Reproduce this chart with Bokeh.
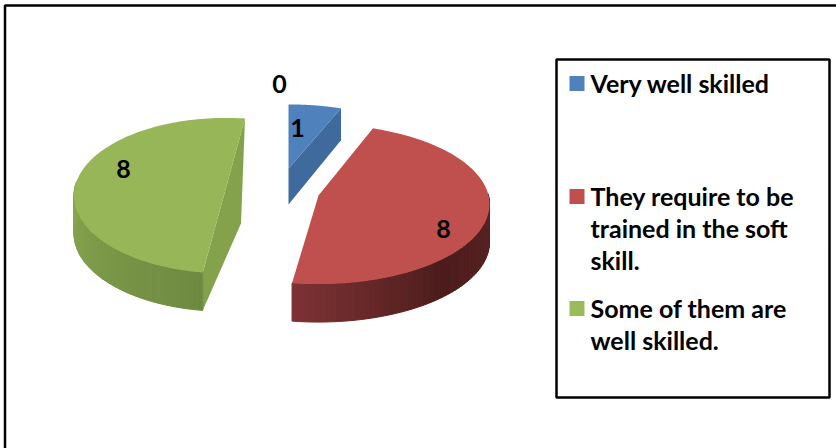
import math
from bokeh.plotting import figure
from bokeh.embed import file_html
from bokeh.resources import INLINE
from bokeh.core.properties import value as fv
from bokeh.models import Range1d

categories = ["Very well skilled", "They require to be\ntrained in the soft\nskill.", "Some of them are\nwell skilled."]
values = [1, 8, 8]
data_labels = ["1", "8", "8"]
extra_label = "0"
colors = ["#4F81BD", "#C0504D", "#9BBB59"]
top_colors = ["#4F81BD", "#C0504D", "#97B657"]

W, H = 836, 448
FONT = "Lato"
p = figure(width=W, height=H, x_range=Range1d(0, W), y_range=Range1d(H, 0), output_backend="svg",
           toolbar_location=None, min_border=0, outline_line_color=None)
p.axis.visible = False
p.grid.visible = False

# per-slice drawing of the tilted, exploded pie; pad = (degrees added at start, at end)
geom = [dict(cx=288, cy=168, R=160, S=71, K=0.108, depth=36, pad=(0, 0)),
        dict(cx=318, cy=195, R=170, S=79, K=0.108, depth=38, pad=(0.5, -2.6)),
        dict(cx=225, cy=189, R=151, S=77.2, K=0.0787, depth=38, pad=(2.6, 8))]
shades = {1: [(0.0, "#5c2424"), (0.5, "#4c1c1c"), (1.0, "#7d3234")],
          2: [(0.0, "#88a750"), (0.45, "#7d9a49"), (1.0, "#6d8a40")]}


def rim(g, t):
    X, Y = math.sin(t), math.cos(t)
    w = 1 + g["K"] * Y
    return g["cx"] + g["R"] * X / w, g["cy"] - g["S"] * Y / w


def lerp(stops, f):
    for (a, ca), (b, cb) in zip(stops, stops[1:]):
        if f <= b:
            u = (f - a) / (b - a)
            c = [round(int(ca[i:i + 2], 16) * (1 - u) + int(cb[i:i + 2], 16) * u) for i in (1, 3, 5)]
            return "#%02x%02x%02x" % tuple(c)
    return stops[-1][1]


total = sum(values)
angle = 0.0
spans = []
for v, g in zip(values, geom):
    sweep = v / total * 2 * math.pi
    spans.append((angle - math.radians(g["pad"][0]), angle + sweep + math.radians(g["pad"][1])))
    angle += sweep

# side walls
for i, (g, (a, b)) in enumerate(zip(geom, spans)):
    if i == 0:
        ax, ay = rim(g, b)
        p.patch([g["cx"], ax, ax, g["cx"]], [g["cy"], ay, ay + 32, g["cy"] + g["depth"]], fill_color="#3f6a9e", line_color=None)
        continue
    lo = max(a, math.pi / 2 - 0.02)
    hi = min(b, 3 * math.pi / 2 + 0.1)
    if i == 2:
        lo = a
        x1, y1 = rim(g, a)
        x2, y2 = rim(g, b)
        p.patch([x2, x2 - 4, x1, x1], [y2, g["cy"] + 34, y1 + g["depth"], y1], fill_color="#84a24c", line_color=None)
    n = 60
    for k in range(n):
        t0 = lo + (hi - lo) * k / n
        t1 = lo + (hi - lo) * (k + 1) / n
        x0, y0 = rim(g, t0)
        x1, y1 = rim(g, t1)
        d = g["depth"]
        f = (k + 0.5) / n
        if i == 2:
            f = 1 - f
        col = lerp(shades[i], f)
        p.patch([x0, x1, x1, x0], [y0, y1, y1 + d, y0 + d], fill_color=col, line_color=col, line_width=1)

# top faces
for i, (g, (a, b)) in enumerate(zip(geom, spans)):
    n = 120
    pts = [rim(g, a + (b - a) * k / n) for k in range(n + 1)]
    xs = [g["cx"]] + [q[0] for q in pts]
    ys = [g["cy"]] + [q[1] for q in pts]
    p.patch(xs, ys, fill_color=top_colors[i], line_color=None)

# data labels
lab = dict(text_font=fv(FONT), text_font_style="bold", text_font_size="25px", text_color="#000000",
           text_align="center", text_baseline="middle")
p.text([279], [83], text=[extra_label], **lab)
p.text([297, 443, 123], [127, 228, 168], text=data_labels, **lab)

# frames: the reference shows only the left and top edges of the outer border
p.line([4.5, 4.5, H * 2], [H, 5, 5], line_color="#000000", line_width=2.5)
p.quad(left=[556], right=[829], top=[59], bottom=[397], fill_color="#ffffff", line_color="#000000", line_width=2.5, level="underlay")

# legend
tops = [82, 195, 307]
for c, cat, y in zip(colors, categories, tops):
    p.quad(left=[569], right=[584], top=[y - 6.5], bottom=[y + 8.5], fill_color=c, line_color=None)
    for j, line in enumerate(cat.split("\n")):
        p.text([590], [y + j * 32], text=[line], text_font=fv(FONT), text_font_style="bold", text_font_size="25px",
               text_color="#000000", text_align="left", text_baseline="middle")

html = file_html(p, INLINE).replace("<body>", '<body style="margin:0">')
open("out.html", "w").write(html)
